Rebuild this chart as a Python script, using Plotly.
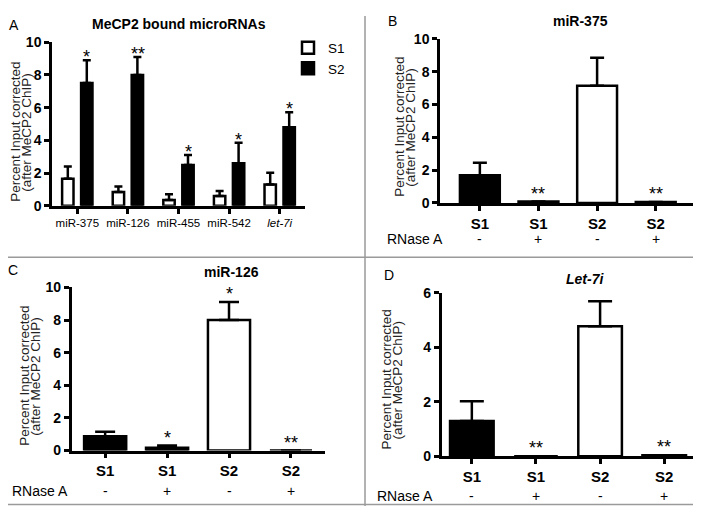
import plotly.graph_objects as go

# ---------------- data ----------------
A_categories = ["miR-375", "miR-126", "miR-455", "miR-542", "let-7i"]
A_tick_labels = ["miR-375", "miR-126", "miR-455", "miR-542", "<i>let-7i</i>"]
A_s1 = [1.65, 0.85, 0.35, 0.6, 1.3]
A_s1_err = [0.75, 0.33, 0.35, 0.3, 0.72]
A_s2 = [7.5, 8.0, 2.5, 2.6, 4.8]
A_s2_err = [1.4, 1.1, 0.6, 1.25, 0.92]
A_sig = ["*", "**", "*", "*", "*"]

group_labels = ["S1", "S1", "S2", "S2"]
rnase_labels = ["-", "+", "-", "+"]

B_values = [1.68, 0.08, 7.15, 0.05]
B_err = [0.77, None, 1.7, None]
B_sig = ["", "**", "", "**"]

C_values = [0.88, 0.17, 8.0, 0.0]
C_err = [0.27, 0.13, 1.1, None]
C_sig = ["", "*", "*", "**"]

D_values = [1.3, 0.0, 4.78, 0.04]
D_err = [0.72, None, 0.92, None]
D_sig = ["", "**", "", "**"]

y_ticks_10 = [0, 2, 4, 6, 8, 10]
y_ticks_6 = [0, 2, 4, 6]

# ---------------- layout helpers ----------------
# the page body has an 8px margin, so the figure is sized to fill the rest of the window
OFF = 8
W, H = 701 - OFF, 514 - OFF
FONT = "Liberation Sans, Arial, Helvetica, sans-serif"


def px(x):
    return (x - OFF) / W


def py(y):
    return 1 - (y - OFF) / H


def bold(labels):
    return ["<b>%s</b>" % l for l in labels]


bar_colors = ["black", "black", "white", "white"]

fig = go.Figure()

# Panel A
fig.add_trace(go.Bar(
    x=list(range(len(A_categories))), y=A_s1, name="S1",
    marker=dict(color="white", line=dict(color="black", width=2.5)),
    error_y=dict(type="data", symmetric=False, array=A_s1_err,
                 arrayminus=[0] * len(A_s1), color="black", thickness=2.5, width=4),
    xaxis="x", yaxis="y", showlegend=True))
fig.add_trace(go.Bar(
    x=list(range(len(A_categories))), y=A_s2, name="S2",
    marker=dict(color="black", line=dict(color="black", width=2.5)),
    error_y=dict(type="data", symmetric=False, array=A_s2_err,
                 arrayminus=[0] * len(A_s2), color="black", thickness=2.5, width=4),
    xaxis="x", yaxis="y", showlegend=True))

panels = [
    ("x2", "y2", B_values, B_err, 7),
    ("x3", "y3", C_values, C_err, 10),
    ("x4", "y4", D_values, D_err, 12),
]
for xa, ya, vals, errs, cap in panels:
    fig.add_trace(go.Bar(
        x=list(range(len(vals))), y=vals, width=0.68,
        marker=dict(color=bar_colors, line=dict(color="black", width=2.5)),
        error_y=dict(type="data", symmetric=False, array=errs,
                     arrayminus=[0] * len(vals), color="black", thickness=2.5, width=cap),
        xaxis=xa, yaxis=ya, showlegend=False))

axis_common = dict(showline=True, linecolor="black", linewidth=2.5, ticks="outside",
                   ticklen=5, tickwidth=2.5, tickcolor="black", showgrid=False,
                   zeroline=False, fixedrange=True)
ytick_font = dict(family=FONT, size=14, color="black")
xS_font = dict(family=FONT, size=15, color="black")

layout_axes = dict(
    xaxis=dict(domain=[px(52), px(305)], range=[-0.5, 4.5], anchor="y",
               tickvals=list(range(len(A_categories))), ticktext=A_tick_labels,
               tickfont=dict(family=FONT, size=11.5, color="black"), **axis_common),
    yaxis=dict(domain=[py(204), py(35)], range=[0, 10], anchor="x",
               tickvals=y_ticks_10, ticktext=bold(y_ticks_10),
               tickfont=ytick_font, **axis_common),
    xaxis2=dict(domain=[px(440), px(695)], range=[-0.68, 3.67], anchor="y2",
                tickvals=list(range(4)), ticktext=bold(group_labels), tickfont=xS_font,
                **axis_common),
    yaxis2=dict(domain=[py(201), py(31.7)], range=[0, 10], anchor="x2",
                tickvals=y_ticks_10, ticktext=bold(y_ticks_10),
                tickfont=ytick_font, **axis_common),
    xaxis3=dict(domain=[px(71.7), px(325)], range=[-0.54, 3.55], anchor="y3",
                tickvals=list(range(4)), ticktext=bold(group_labels), tickfont=xS_font,
                **axis_common),
    yaxis3=dict(domain=[py(456.7), py(288.3)], range=[0, 10], anchor="x3",
                tickvals=y_ticks_10, ticktext=bold(y_ticks_10),
                tickfont=ytick_font, **axis_common),
    xaxis4=dict(domain=[px(441.7), px(695)], range=[-0.47, 3.48], anchor="y4",
                tickvals=list(range(4)), ticktext=bold(group_labels), tickfont=xS_font,
                **axis_common),
    yaxis4=dict(domain=[py(462.7), py(294)], range=[0, 6], anchor="x4",
                tickvals=y_ticks_6, ticktext=bold(y_ticks_6),
                tickfont=ytick_font, **axis_common),
)

annotations = []
star_font = dict(family=FONT, size=18, color="black")

# significance stars
for i, s in enumerate(A_sig):
    annotations.append(dict(x=i + 0.19, y=A_s2[i] + A_s2_err[i], xref="x", yref="y",
                            text=s, showarrow=False, yanchor="middle", yshift=3,
                            font=star_font))
for (xa, ya, vals, errs, _), sig in zip(panels, [B_sig, C_sig, D_sig]):
    for i, s in enumerate(sig):
        if not s:
            continue
        top = vals[i] + (errs[i] or 0)
        annotations.append(dict(x=i, y=top, xref=xa, yref=ya, text=s, showarrow=False,
                                yanchor="middle", yshift=8, font=star_font))

# RNase A rows
rn_font = dict(family=FONT, size=14, color="black")
for xa, label_x, row_y in [("x2", 385, 238), ("x3", 10, 499), ("x4", 375, 504)]:
    annotations.append(dict(x=px(label_x), y=py(row_y), xref="paper", yref="paper",
                            text="RNase A", showarrow=False, xanchor="left",
                            yanchor="middle", font=rn_font))
    for i, s in enumerate(rnase_labels):
        annotations.append(dict(x=i, y=py(row_y), xref=xa, yref="paper", text=s,
                                showarrow=False, yanchor="middle", font=rn_font))

# titles and letters
title_font = dict(family=FONT, size=14, color="black")
letter_font = dict(family=FONT, size=14, color="black")
for text, x, y in [("<b>MeCP2 bound microRNAs</b>", 179, 16), ("<b>miR-375</b>", 580, 13),
                   ("<b>miR-126</b>", 231, 272), ("<b><i>Let-7i</i></b>", 585, 280)]:
    annotations.append(dict(x=px(x), y=py(y), xref="paper", yref="paper", text=text,
                            showarrow=False, xanchor="center", yanchor="middle",
                            font=title_font))
for text, x, y in [("A", 14, 17), ("B", 392, 13), ("C", 13, 270), ("D", 389, 275)]:
    annotations.append(dict(x=px(x), y=py(y), xref="paper", yref="paper", text=text,
                            showarrow=False, xanchor="center", yanchor="middle",
                            font=letter_font))

# y axis titles (two lines each)
ytitle_font = dict(family=FONT, size=13.5, color="#222")
for cx, cy in [(21, 128), (405, 123), (30, 380), (392, 384)]:
    for dx, line in [(-5.5, "Percent Input corrected"), (5.5, "(after MeCP2 ChIP)")]:
        annotations.append(dict(x=px(cx + dx), y=py(cy), xref="paper", yref="paper",
                                text=line, textangle=-90, showarrow=False,
                                xanchor="center", yanchor="middle", font=ytitle_font))

# panel borders
border = dict(color="#9a9a9a", width=1.5)
shapes = [
    dict(type="line", xref="paper", yref="paper", x0=px(700), x1=px(700), y0=0, y1=1, line=border),
    dict(type="line", xref="paper", yref="paper", x0=0, x1=1, y0=py(512.5), y1=py(512.5), line=border),
    dict(type="line", xref="paper", yref="paper", x0=px(365), x1=px(365), y0=0, y1=1, line=border),
    dict(type="line", xref="paper", yref="paper", x0=0, x1=1, y0=py(257), y1=py(257), line=border),
]

fig.update_layout(
    width=W, height=H, margin=dict(l=0, r=0, t=0, b=0),
    paper_bgcolor="white", plot_bgcolor="white",
    barmode="group", bargap=0.25, bargroupgap=0.4,
    font=dict(family=FONT, color="black"),
    legend=dict(x=px(288), y=py(25), xanchor="left", yanchor="top",
                font=dict(family=FONT, size=13.5, color="black"),
                bgcolor="rgba(0,0,0,0)", tracegroupgap=0, itemwidth=30),
    annotations=annotations, shapes=shapes,
    **layout_axes,
)

fig.write_html("out.html")
